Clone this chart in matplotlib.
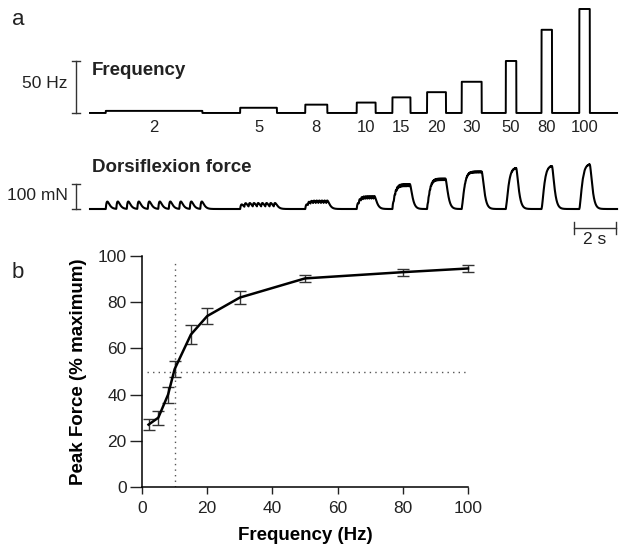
import numpy as np
import matplotlib
matplotlib.use("Agg")
import matplotlib.pyplot as plt

plt.rcParams['font.family'] = ['Liberation Sans', 'DejaVu Sans']
plt.rcParams['text.color'] = '#222222'

# ---- panel a: stimulation trains ----
train_freq = [2, 5, 8, 10, 15, 20, 30, 50, 80, 100]          # Hz
train_onset = [0.75, 7.15, 10.25, 12.7, 14.4, 16.05, 17.7, 19.8, 21.5, 23.3]  # s
train_dur = [4.6, 1.75, 1.05, 0.9, 0.86, 0.9, 0.95, 0.5, 0.5, 0.5]           # s
train_peak = [30, 24, 34, 52, 100, 122, 150, 164, 172, 178]  # mN, dorsiflexion force
trace_end = 25.1

# ---- panel b: peak force vs frequency ----
freq = [2, 5, 8, 10, 15, 20, 30, 50, 80, 100]
peak_force = [27, 30, 40, 51, 66, 74, 82, 90.3, 93, 94.6]
peak_err = [2.5, 3, 3.5, 3.5, 4, 3.5, 2.7, 1.5, 1.5, 1.7]

fig = plt.figure(figsize=(6.23, 5.46), dpi=100)

t = np.arange(0, trace_end, 0.002)
xl = (-90 / 21, 533 / 21)


def twitch(s, tau=0.075):
    s = np.clip(s, 0, None)
    return (s / tau) * np.exp(1 - s / tau)


# frequency trace
ax_f = fig.add_axes([0, 1 - 140 / 546, 1, 140 / 546])
ax_f.set_xlim(xl)
ax_f.set_ylim(-26, 108.65)
ax_f.axis('off')
ftrace = np.zeros_like(t)
for f, on, d in zip(train_freq, train_onset, train_dur):
    ftrace += f * ((t >= on) & (t < on + d))
ax_f.plot(t, ftrace, color='black', lw=1.4)
for f, on, d in zip(train_freq, train_onset, train_dur):
    ax_f.text(on + d / 2, -13.5, str(f), ha='center', va='center', fontsize=12)
ax_f.plot([-0.667, -0.667], [0, 50], color='#333333', lw=1)
for yy in (0, 50):
    ax_f.plot([-0.667 - 0.17, -0.667 + 0.17], [yy, yy], color='#333333', lw=1)
ax_f.text(-1.05, 27.9, '50 Hz', ha='right', va='center', fontsize=12.5)
ax_f.text(0.1, 41, 'Frequency', ha='left', va='center', fontsize=13.5,
          fontweight='bold')
ax_f.text(-3.43, 90, 'a', ha='center', va='center', fontsize=16)

# force trace
ax_m = fig.add_axes([0, 1 - 250 / 546, 1, 110 / 546])
ax_m.set_xlim(xl)
ax_m.set_ylim(-164, 276)
ax_m.axis('off')
force = np.zeros_like(t)
for f, on, d, pk in zip(train_freq, train_onset, train_dur, train_peak):
    pulses = on + np.arange(0, d, 1 / f)
    resp = np.zeros_like(t)
    for p in pulses:
        resp += twitch(t - p)
    force += resp * pk / resp.max()
ax_m.plot(t, force, color='black', lw=1.5)
ax_m.plot([-0.667, -0.667], [0, 100], color='#333333', lw=1)
for yy in (0, 100):
    ax_m.plot([-0.667 - 0.17, -0.667 + 0.17], [yy, yy], color='#333333', lw=1)
ax_m.text(-1.05, 52, '100 mN', ha='right', va='center', fontsize=12.5)
ax_m.text(0.1, 168, 'Dorsiflexion force', ha='left', va='center',
          fontsize=13.5, fontweight='bold')
# 2 s time bar
ax_m.plot([23.05, 25.05], [-76, -76], color='#333333', lw=1)
for xx in (23.05, 25.05):
    ax_m.plot([xx, xx], [-100, -52], color='#333333', lw=1)
ax_m.text(24.05, -124, '2 s', ha='center', va='center', fontsize=12.5)

fig.text(18 / 623, 1 - 272 / 546, 'b', ha='center', va='center', fontsize=16)

# ---- panel b ----
ax = fig.add_axes([142 / 623, 1 - 487 / 546, 326 / 623, 231 / 546])
ax.axvline(10, ymax=0.97, color='#555555', lw=1, ls=(0, (1, 3)))
ax.plot([1.5, 100], [50, 50], color='#555555', lw=1, ls=(0, (1, 3)))
ax.errorbar(freq, peak_force, yerr=peak_err, color='black', lw=1.8,
            ecolor='#333333', elinewidth=1, capsize=4, capthick=1,
            clip_on=False)
ax.set_xlim(0, 100)
ax.set_ylim(0, 100)
ax.set_xticks(range(0, 101, 20))
ax.set_yticks(range(0, 101, 20))
for s in ('top', 'right'):
    ax.spines[s].set_visible(False)
for s in ('left', 'bottom'):
    ax.spines[s].set_linewidth(1.1)
ax.tick_params(axis='y', length=9, width=1, labelsize=12.5, pad=2,
               colors='#222222')
ax.tick_params(axis='x', length=5, width=1, labelsize=12.5, pad=5,
               colors='#222222')
ax.set_xlabel('Frequency (Hz)', fontsize=13.5, fontweight='bold', labelpad=8)
ax.set_ylabel('Peak Force (% maximum)', fontsize=13.5, fontweight='bold',
              labelpad=8)

fig.savefig('out.png', dpi=100)
